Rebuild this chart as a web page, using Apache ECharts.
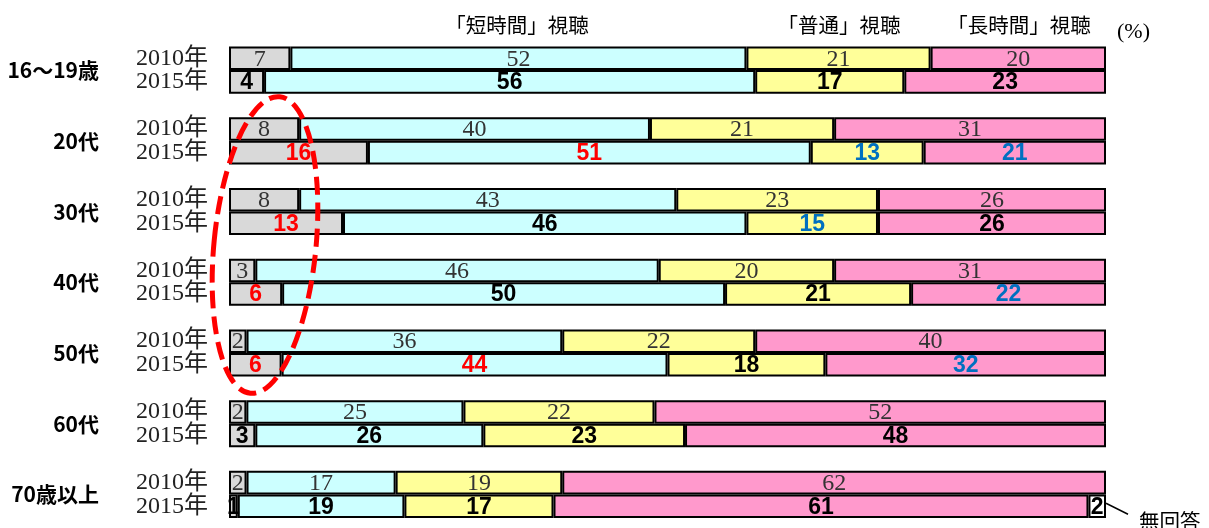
<!DOCTYPE html>
<html>
<head>
<meta charset="utf-8">
<script src="https://cdn.jsdelivr.net/npm/echarts@6/dist/echarts.min.js"></script>
<style>
  html, body { margin: 0; padding: 0; background: #fff; }
  #chart { width: 1209px; height: 528px; }
</style>
</head>
<body>
<div id="chart"></div>
<script>
const groups = ["16〜19歳", "20代", "30代", "40代", "50代", "60代", "70歳以上"];
const years = ["2010年", "2015年"];
const seriesNames = ["ほとんど見ない", "「短時間」視聴", "「普通」視聴", "「長時間」視聴", "無回答"];
const colors = ["#D9D9D9", "#CCFFFF", "#FFFF99", "#FF99CC", "#FFFFFF"];

// 各年層の 2010年, 2015年 の順
const noWatch = [7, 4, 8, 16, 8, 13, 3, 6, 2, 6, 2, 3, 2, 1];
const shortView = [52, 56, 40, 51, 43, 46, 46, 50, 36, 44, 25, 26, 17, 19];
const normalView = [21, 17, 21, 13, 23, 15, 20, 21, 22, 18, 22, 23, 19, 17];
const longView = [20, 23, 31, 21, 26, 26, 31, 22, 40, 32, 52, 48, 62, 61];
const noAnswer = [0, 0, 0, 0, 0, 0, 0, 0, 0, 0, 0, 0, 0, 2];

// 2015年の有意差  1 = 増加(赤)  -1 = 減少(青)
const noWatchSig = [0, 0, 0, 1, 0, 1, 0, 1, 0, 1, 0, 0, 0, 0];
const shortSig = [0, 0, 0, 1, 0, 0, 0, 0, 0, 1, 0, 0, 0, 0];
const normalSig = [0, 0, 0, -1, 0, -1, 0, 0, 0, 0, 0, 0, 0, 0];
const longSig = [0, 0, 0, -1, 0, 0, 0, -1, 0, -1, 0, 0, 0, 0];
const noAnswerSig = [0, 0, 0, 0, 0, 0, 0, 0, 0, 0, 0, 0, 0, 0];

const values = [noWatch, shortView, normalView, longView, noAnswer];
const sigs = [noWatchSig, shortSig, normalSig, longSig, noAnswerSig];

// 1グループ = 2行 + 空白1行
const slots = [];
groups.forEach((g, gi) => {
  years.forEach((y, yi) => slots.push({ row: gi * 2 + yi, year: y }));
  if (gi < groups.length - 1) slots.push({ row: -1, year: "" });
});
// グループ名は2本の棒の境目に置く
const boundaryLabels = [];
for (let i = 0; i <= slots.length; i++) {
  boundaryLabels.push(i % 3 === 1 ? groups[(i - 1) / 3] : "");
}

const rowSum = (r) => values.reduce((s, arr) => s + arr[r], 0);

const label2010 = { fontFamily: "Liberation Serif", fontSize: 24, color: "#333", fontWeight: "normal", offset: [0, 1] };
const label2015 = { fontFamily: "Liberation Sans", fontSize: 23, fontWeight: "bold", offset: [0, 1] };

const series = values.map((arr, si) => ({
  name: seriesNames[si],
  type: "bar",
  stack: "total",
  barCategoryGap: "0%",
  itemStyle: { color: colors[si], borderColor: "#000", borderWidth: 2 },
  label: { show: true, position: "inside", formatter: (p) => p.data.raw },
  emphasis: { disabled: true },
  data: slots.map((s) => {
    if (s.row < 0 || arr[s.row] === 0) return "-";
    const sig = sigs[si][s.row];
    const lab = s.row % 2 === 1
      ? Object.assign({}, label2015, { color: sig > 0 ? "#FF0000" : sig < 0 ? "#0070C0" : "#000" })
      : label2010;
    return { value: (arr[s.row] / rowSum(s.row)) * 100, raw: arr[s.row], label: lab };
  })
}));

const chart = echarts.init(document.getElementById("chart"));

const headerStyle = { fontFamily: "Noto Sans CJK JP", fontSize: 20.5, fontWeight: "normal", color: "#000" };

const option = {
  animation: false,
  title: [
    { text: "「短時間」視聴", left: 512, top: 10, textAlign: "center", textStyle: headerStyle },
    { text: "「普通」視聴", left: 834, top: 10, textAlign: "center", textStyle: headerStyle },
    { text: "「長時間」視聴", left: 1014, top: 10, textAlign: "center", textStyle: headerStyle },
    { text: "(%)", left: 1112, top: 16, textStyle: { fontFamily: "Liberation Serif", fontSize: 22, fontWeight: "normal", color: "#000" } },
    { text: "無回答", left: 1134, top: 506, textStyle: headerStyle }
  ],
  grid: { left: 229, right: 103, top: 46.5, bottom: 10 },
  xAxis: { type: "value", min: 0, max: 100, show: false },
  yAxis: [
    {
      type: "category",
      inverse: true,
      data: slots.map((s, i) => "s" + i),
      axisLine: { show: false },
      axisTick: { show: false },
      axisLabel: {
        interval: 0,
        margin: 21,
        formatter: (v, i) => slots[i].year,
        fontFamily: "Liberation Serif, Noto Sans CJK JP",
        fontSize: 24,
        color: "#222"
      }
    },
    {
      type: "category",
      inverse: true,
      position: "left",
      boundaryGap: false,
      data: boundaryLabels.map((b, i) => "b" + i),
      axisLine: { show: false },
      axisTick: { show: false },
      axisLabel: {
        interval: 0,
        margin: 130,
        formatter: (v, i) => boundaryLabels[i],
        fontFamily: "Noto Sans CJK JP",
        fontSize: 21,
        fontWeight: "bold",
        color: "#000"
      }
    }
  ],
  series: series
};

chart.setOption(option);

// 無回答の引き出し線と、注目部分の赤い破線楕円
const lastRow = slots.length - 1;
const end = chart.convertToPixel({ gridIndex: 0 }, [100, lastRow]);
chart.setOption({
  graphic: [
    {
      type: "line",
      z: 100,
      shape: { x1: end[0], y1: end[1] - 3, x2: end[0] + 22, y2: end[1] + 8 },
      style: { stroke: "#000", lineWidth: 1.5 }
    },
    {
      type: "ellipse",
      z: 100,
      x: 265,
      y: 245,
      rotation: -0.098,
      shape: { cx: 0, cy: 0, rx: 51, ry: 149 },
      style: { fill: "none", stroke: "#FF0000", lineWidth: 5, lineDash: [18, 8] }
    }
  ]
});
</script>
</body>
</html>
